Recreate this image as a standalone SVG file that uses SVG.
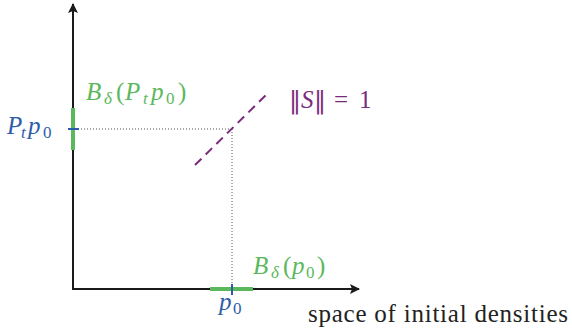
<svg xmlns="http://www.w3.org/2000/svg" width="572" height="333" viewBox="0 0 572 333" font-family="'Liberation Serif', 'Times New Roman', serif">
<style>
.ax{stroke:#1a1a1a;stroke-width:2;fill:none}
.dot{stroke:#555;stroke-width:1;stroke-dasharray:1 2;fill:none}
.grn{stroke:#5cb85c;stroke-width:4;fill:none}
.blu{stroke:#2d5da8;stroke-width:2;fill:none}
.m{font-family:'Liberation Serif', 'Times New Roman', serif;font-style:italic;font-size:25px}
.r{font-family:'Liberation Serif', 'Times New Roman', serif;font-size:25px}
.s{font-size:17px}
.u{font-style:normal}
.n{font-family:'DejaVu Serif', serif;font-size:24px}
</style>
<defs>
<marker id="ah" viewBox="0 0 10 10" refX="9" refY="5" markerWidth="5" markerHeight="5" orient="auto" markerUnits="strokeWidth">
<path d="M0,0 L10,5 L0,10 L2,5 Z" fill="#1a1a1a"/>
</marker>
</defs>
<g id="connectors">
<line class="ax" x1="73" y1="290" x2="73" y2="4" marker-end="url(#ah)"/>
<line class="ax" x1="72" y1="289" x2="359" y2="289" marker-end="url(#ah)"/>
<line class="dot" x1="78" y1="129" x2="232" y2="129"/>
<line class="dot" x1="232" y1="129" x2="232" y2="284"/>
<line x1="195" y1="165" x2="266" y2="95" stroke="#7b2a7b" stroke-width="2" stroke-dasharray="9 6"/>
</g>
<g id="ball-pt">
<line class="grn" x1="73" y1="108" x2="73" y2="150"/>
<line class="blu" x1="68" y1="129" x2="79" y2="129"/>
<text fill="#5cb85c" class="m"><tspan x="86" y="100">B</tspan><tspan class="s" x="104" y="104">δ</tspan><tspan class="u" x="116" y="100">(</tspan><tspan x="125" y="100">P</tspan><tspan class="s" x="143" y="104">t</tspan><tspan x="151" y="100">p</tspan><tspan class="s u" x="166" y="104">0</tspan><tspan class="u" x="178" y="100">)</tspan></text>
<text fill="#2d5da8" class="m"><tspan x="7" y="134">P</tspan><tspan class="s" x="21" y="138">t</tspan><tspan x="28" y="134">p</tspan><tspan class="s u" x="43" y="138">0</tspan></text>
</g>
<g id="ball-p0">
<line class="grn" x1="210" y1="289" x2="253" y2="289"/>
<line class="blu" x1="232" y1="284" x2="232" y2="295"/>
<text fill="#5cb85c" class="m"><tspan x="253" y="274">B</tspan><tspan class="s" x="271" y="278">δ</tspan><tspan class="u" x="283" y="274">(</tspan><tspan x="292" y="274">p</tspan><tspan class="s u" x="306" y="278">0</tspan><tspan class="u" x="317" y="274">)</tspan></text>
<text fill="#2d5da8" class="m"><tspan x="219" y="310">p</tspan><tspan class="s u" x="233" y="314">0</tspan></text>
</g>
<g id="norm-label">
<text fill="#7b2a7b" class="r"><tspan class="n" x="289" y="108">‖</tspan><tspan x="301" y="108" font-style="italic">S</tspan><tspan class="n" x="314" y="108">‖</tspan><tspan x="334" y="108">=</tspan><tspan x="359" y="108">1</tspan></text>
</g>
<g id="axis-label">
<text x="308" y="322" fill="#222" class="r" textLength="260" lengthAdjust="spacing">space of initial densities</text>
</g>
</svg>
